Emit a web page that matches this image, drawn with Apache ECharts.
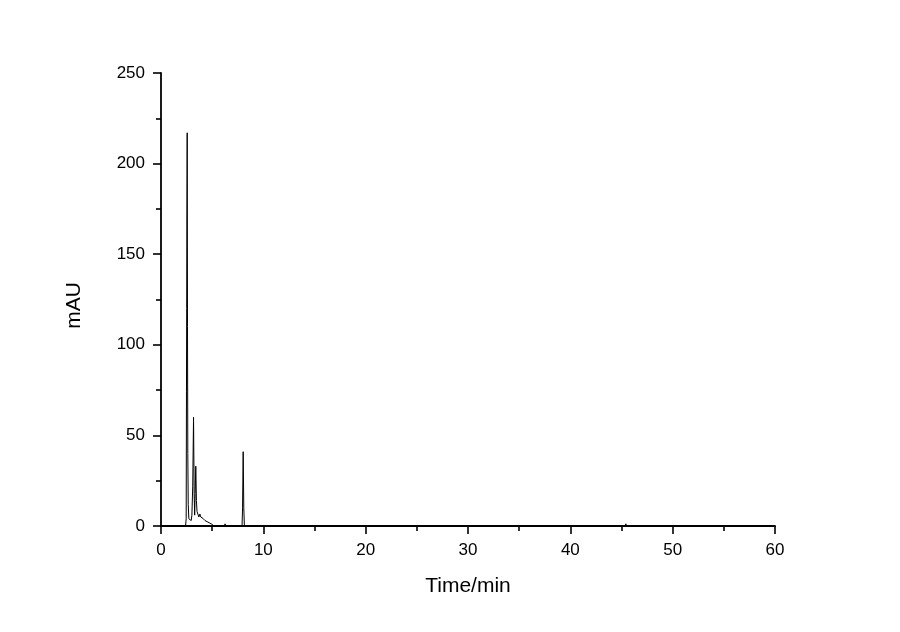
<!DOCTYPE html>
<html>
<head>
<meta charset="utf-8">
<script src="https://cdn.jsdelivr.net/npm/echarts@6/dist/echarts.min.js"></script>
<style>html,body{margin:0;padding:0;background:#fff;}#c{width:900px;height:632px;}</style>
</head>
<body>
<div id="c"></div>
<script>
// Time (min) and absorbance (mAU)
var times = [0, 2.40, 2.46, 2.49, 2.51, 2.53, 2.56, 2.59, 2.62, 2.66, 2.72, 2.80, 2.88, 2.95, 3.02, 3.10, 3.18, 3.24, 3.29, 3.34, 3.40, 3.46, 3.52, 3.60, 3.70, 3.80, 3.88, 3.96, 4.10, 4.30, 4.50, 4.70, 4.90, 5.05, 5.20, 6.20, 6.26, 6.32, 7.92, 7.97, 8.03, 8.09, 8.15, 45.35, 45.42, 45.50, 60];
var mAU   = [0, 0,    4,    74,   120,  170,  217,  110,  40,   12,   4,    3,    5,    3,    6,    22,   60,   18,   6,    18,   33,   14,   8,    7,    5,    6.6,  5,    4.5,  4.2,  3,    2.4,  1.8,  1.2,  0.5,  0,    0,    1.2,  0,    0,    10,   41,   10,   0,    0,     1.2,   0,     0];

var xTicks = [0, 10, 20, 30, 40, 50, 60];
var yTicks = [0, 50, 100, 150, 200, 250];

var data = times.map(function (t, i) { return [t, mAU[i]]; });

var chart = echarts.init(document.getElementById('c'), null, {renderer: 'canvas'});
var font = 'Liberation Sans, Arial, sans-serif';
chart.setOption({
  backgroundColor: '#fff',
  animation: false,
  grid: {left: 161, right: 125, top: 73, bottom: 106, containLabel: false},
  xAxis: {
    type: 'value',
    min: xTicks[0], max: xTicks[xTicks.length - 1], interval: 10,
    name: 'Time/min', nameLocation: 'middle', nameGap: 50,
    nameTextStyle: {fontFamily: font, fontSize: 21, color: '#000'},
    axisLine: {show: true, lineStyle: {color: '#000', width: 1.8}},
    axisTick: {show: true, inside: false, length: 8, lineStyle: {color: '#000', width: 1.6}},
    minorTick: {show: true, splitNumber: 2, length: 5, lineStyle: {color: '#000', width: 1.6}},
    axisLabel: {fontFamily: font, fontSize: 17, color: '#000', margin: 16},
    splitLine: {show: false}
  },
  yAxis: {
    type: 'value',
    min: yTicks[0], max: yTicks[yTicks.length - 1], interval: 50,
    name: 'mAU', nameLocation: 'middle', nameGap: 76, nameRotate: 90,
    nameTextStyle: {fontFamily: font, fontSize: 21, color: '#000', padding: [0, 12, 0, 0]},
    axisLine: {show: true, onZero: false, lineStyle: {color: '#000', width: 1.8}},
    axisTick: {show: true, inside: false, length: 8, lineStyle: {color: '#000', width: 1.6}},
    minorTick: {show: true, splitNumber: 2, length: 5, lineStyle: {color: '#000', width: 1.6}},
    axisLabel: {fontFamily: font, fontSize: 17, color: '#000', margin: 16},
    splitLine: {show: false}
  },
  series: [{
    type: 'line',
    data: data,
    showSymbol: false,
    symbol: 'none',
    lineStyle: {color: '#000', width: 1},
    z: 1
  }]
});
</script>
</body>
</html>
